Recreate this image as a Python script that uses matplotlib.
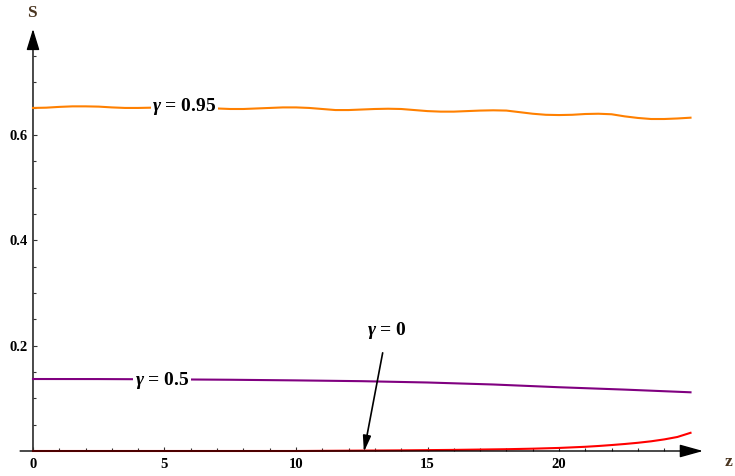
import matplotlib.pyplot as plt
import numpy as np

plt.rcParams['font.family'] = ['Liberation Serif', 'DejaVu Serif']
plt.rcParams['mathtext.fontset'] = 'custom'
plt.rcParams['mathtext.it'] = 'Liberation Serif:italic:bold'
plt.rcParams['mathtext.rm'] = 'Liberation Serif:bold'

# values
z_orange = np.arange(0, 25.01, 0.5)
s_orange = [0.651, 0.6515, 0.653, 0.654, 0.654, 0.6535, 0.652, 0.651, 0.651, 0.6515,
            0.652, 0.653, 0.653, 0.652, 0.650, 0.649, 0.649, 0.650, 0.651, 0.652,
            0.652, 0.651, 0.649, 0.647, 0.647, 0.648, 0.649, 0.6495, 0.649, 0.647,
            0.645, 0.644, 0.644, 0.645, 0.646, 0.6465, 0.646, 0.643, 0.640, 0.638,
            0.6375, 0.638, 0.6395, 0.640, 0.639, 0.635, 0.632, 0.630, 0.630, 0.631,
            0.6325]

z_purple = [0, 2.5, 5, 7.5, 10, 12.5, 15, 17.5, 20, 22.5, 25]
s_purple = [0.1366, 0.1365, 0.1360, 0.1352, 0.1340, 0.1325, 0.1300, 0.1262, 0.1210, 0.1165, 0.1114]

z_red = [0, 5, 10, 12, 14, 16, 18, 19, 20, 21, 21.5, 22, 22.5, 23, 23.5, 24, 24.5, 25]
s_red = [0, 0, 0, 0.0006, 0.0012, 0.0021, 0.0034, 0.0044, 0.0058, 0.0080, 0.0095,
         0.0113, 0.0133, 0.0156, 0.0184, 0.0220, 0.0266, 0.0345]

x_major = [0, 5, 10, 15, 20]
y_major = [0.2, 0.4, 0.6]

fig = plt.figure(figsize=(7.35, 4.76), dpi=100)
ax = fig.add_axes([20/735, 16/476, 685/735, 432/476])
ax.set_xlim(-0.494, 25.551)
ax.set_ylim(-0.01708, 0.8027)

ax.plot(z_orange, s_orange, color='#FF8000', lw=1.5)
ax.plot(z_purple, s_purple, color='#800080', lw=1.5)
ax.plot(z_red, s_red, color='#FF0000', lw=1.5)

# axes through the origin, drawn as arrows
for side in ['top', 'right']:
    ax.spines[side].set_visible(False)
ax.spines['left'].set_position(('data', 0))
ax.spines['bottom'].set_position(('data', 0))
ax.spines['left'].set_visible(False)
ax.spines['bottom'].set_visible(False)
ax.annotate('', xy=(25.475, 0), xytext=(-0.49, 0),
            arrowprops=dict(arrowstyle='-|>,head_length=0.72,head_width=0.2',
                            mutation_scale=20, color='black', lw=1.0,
                            shrinkA=0, shrinkB=0))
ax.annotate('', xy=(0, 0.8008), xytext=(0, 0),
            arrowprops=dict(arrowstyle='-|>,head_length=0.65,head_width=0.2',
                            mutation_scale=20, color='black', lw=1.0,
                            shrinkA=0, shrinkB=0), zorder=1)

ax.set_xticks(x_major)
ax.set_xticks([v for v in range(1, 25) if v % 5 != 0], minor=True)
ax.set_yticks(y_major)
ax.set_yticks([0.05, 0.1, 0.15, 0.25, 0.3, 0.35, 0.45, 0.5, 0.55, 0.65, 0.7, 0.75], minor=True)
ax.tick_params(which='both', direction='in', color='#333333', width=0.8)
ax.tick_params(which='major', length=3.2)
ax.tick_params(which='minor', length=2.2)
ax.tick_params(axis='x', which='major', pad=5)
ax.tick_params(axis='y', which='major', pad=4)
ax.set_xticklabels([str(v) for v in x_major], fontweight='bold', fontsize=10.5)
ax.set_yticklabels([str(v) for v in y_major], fontweight='bold', fontsize=10.5)

# axis names
fig.text(32/735, 1 - 13/476, 'S', ha='center', va='center', fontsize=12.5,
         fontweight='bold', color='#4a3520')
fig.text(729/735, 1 - 462/476, 'z', ha='center', va='center', fontsize=12.5,
         fontweight='bold', color='#4a3520')

box = dict(facecolor='white', edgecolor='none', pad=1.0)
ax.text(5.76, 0.653, r'$\gamma$ = 0.95', ha='center', va='center', fontsize=14,
        fontweight='bold', bbox=box)
ax.text(4.9, 0.1347, r'$\gamma$ = 0.5', ha='center', va='center', fontsize=14,
        fontweight='bold', bbox=box)
ax.annotate(r'$\gamma$ = 0', xy=(12.58, -0.002), xytext=(13.46, 0.2296),
            ha='center', va='center', fontsize=14, fontweight='bold',
            arrowprops=dict(arrowstyle='-|>,head_length=0.6,head_width=0.15',
                            mutation_scale=16, color='black', lw=1.2,
                            shrinkA=7, shrinkB=0))

fig.savefig('out.png', dpi=100)
